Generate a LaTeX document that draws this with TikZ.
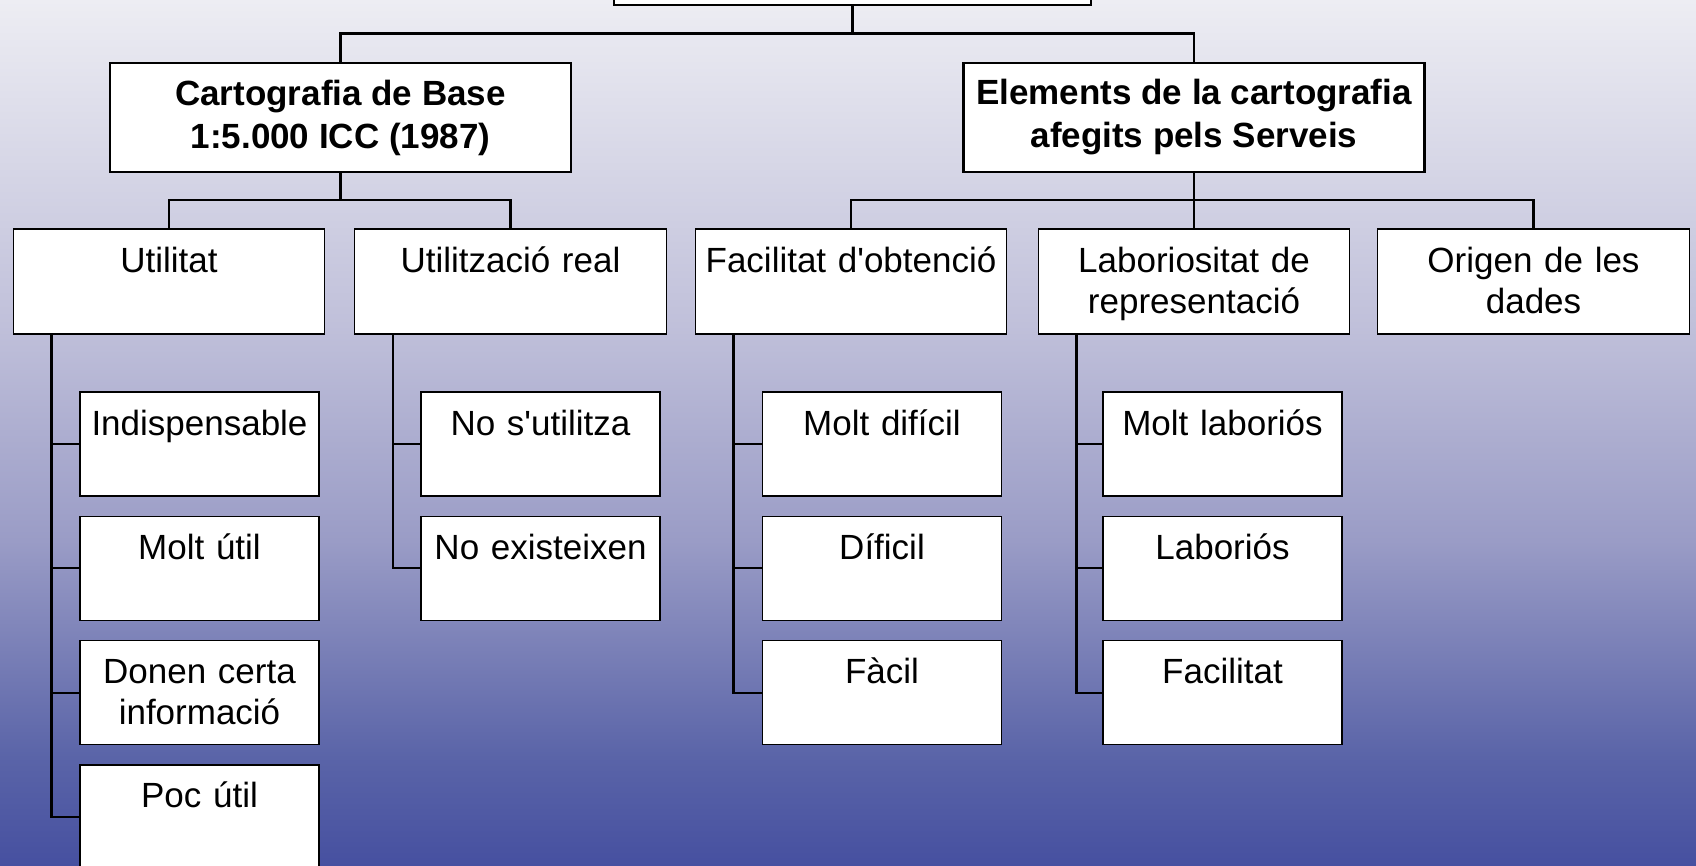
\documentclass[tikz,border=0pt]{standalone}
\usepackage{fontspec}
\setmainfont{Liberation Sans}[Ligatures=TeXOff]
\usepackage{xcolor}
\usepackage{tikz}
\definecolor{bgtop}{RGB}{237, 237, 243}
\definecolor{bgupper}{RGB}{192, 192, 218}
\definecolor{bgmid}{RGB}{154, 156, 198}
\definecolor{bglower}{RGB}{90, 100, 168}
\definecolor{bgbottom}{RGB}{70, 80, 160}
\pgfdeclareverticalshading{slidebg}{100bp}{color(0bp)=(bgbottom); color(25bp)=(bgbottom); color(31.3bp)=(bglower); color(43.8bp)=(bgmid); color(56.25bp)=(bgupper); color(75bp)=(bgtop); color(100bp)=(bgtop)}

\begin{document}
\begin{tikzpicture}[x=0.5pt, y={(0pt,-0.5pt)}, font=\fontsize{17.5}{20.5}\selectfont,
  headbox/.style={draw, fill=white, line width=1.1pt, font=\fontsize{17.5}{21.5}\selectfont\bfseries, align=center, inner sep=0pt, minimum width=230.5pt, minimum height=54.5pt},
  catbox/.style={draw, fill=white, line width=0.7pt, align=center, inner sep=0pt, text width=155.75pt, text height=21.75pt, text depth=30.75pt},
  itembox/.style={draw, fill=white, line width=0.7pt, align=center, inner sep=0pt, text width=119.5pt, text height=21.5pt, text depth=30.5pt},
  link/.style={line width=1.1pt}]
% Background
\useasboundingbox (0,0) rectangle (1696,866);
\clip (0,0) rectangle (1696,866);
\shade[shading=slidebg] (0,0) rectangle (1696,866);

% Nodes
\node[headbox, minimum width=238.5pt] (root) at (852.5,-49.5) {};
\node[headbox] (base) at (340.5,117.5) {Cartografia de Base\\1:5.000 ICC (1987)};
\node[headbox] (afeg) at (1194,117.5) {Elements de la cartografia\\afegits pels Serveis};

\node[catbox] (util) at (169,281.5) {Utilitat};
\node[catbox] (usreal) at (510.5,281.5) {Utilització real};
\node[catbox] (facil) at (851,281.5) {Facilitat d'obtenció};
\node[catbox] (labor) at (1194,281.5) {Laboriositat de\\representació};
\node[catbox] (orig) at (1533.5,281.5) {Origen de les\\dades};

\node[itembox] (indis) at (199.5,444) {Indispensable};
\node[itembox] (moltutil) at (199.5,568.3) {Molt útil};
\node[itembox] (certa) at (199.5,692.6) {Donen certa\\informació};
\node[itembox] (pocutil) at (199.5,816.9) {Poc útil};

\node[itembox] (noutil) at (540.5,444) {No s'utilitza};
\node[itembox] (noexist) at (540.5,568.3) {No existeixen};

\node[itembox] (moltdif) at (882,444) {Molt difícil};
\node[itembox] (dif) at (882,568.3) {Díficil};
\node[itembox] (facl) at (882,692.6) {Fàcil};

\node[itembox] (moltlab) at (1222.5,444) {Molt laboriós};
\node[itembox] (lab) at (1222.5,568.3) {Laboriós};
\node[itembox] (facilitat) at (1222.5,692.6) {Facilitat};

% Joints
\coordinate (j0) at (852.5,33.5);
\coordinate (j1) at (340.5,200);
\coordinate (j2) at (1194,200);

% Edges
\draw[link] (root) -- (j0);
\draw[link] (base.north) |- (j0) -| (afeg.north);
\draw[link] (base) -- (j1);
\draw[link] (util.north) |- (j1) -| (usreal.north);
\draw[link] (afeg) -- (j2);
\draw[link] (facil.north) |- (j2) -| (orig.north);
\draw[link] (labor) -- (j2);

\draw[link] ([xshift=19.5pt]util.south west) |- (indis.west);
\draw[link] ([xshift=19.5pt]util.south west) |- (moltutil.west);
\draw[link] ([xshift=19.5pt]util.south west) |- (certa.west);
\draw[link] ([xshift=19.5pt]util.south west) |- (pocutil.west);

\draw[link] ([xshift=19.5pt]usreal.south west) |- (noutil.west);
\draw[link] ([xshift=19.5pt]usreal.south west) |- (noexist.west);

\draw[link] ([xshift=19.5pt]facil.south west) |- (moltdif.west);
\draw[link] ([xshift=19.5pt]facil.south west) |- (dif.west);
\draw[link] ([xshift=19.5pt]facil.south west) |- (facl.west);

\draw[link] ([xshift=19.5pt]labor.south west) |- (moltlab.west);
\draw[link] ([xshift=19.5pt]labor.south west) |- (lab.west);
\draw[link] ([xshift=19.5pt]labor.south west) |- (facilitat.west);

\end{tikzpicture}
\end{document}
